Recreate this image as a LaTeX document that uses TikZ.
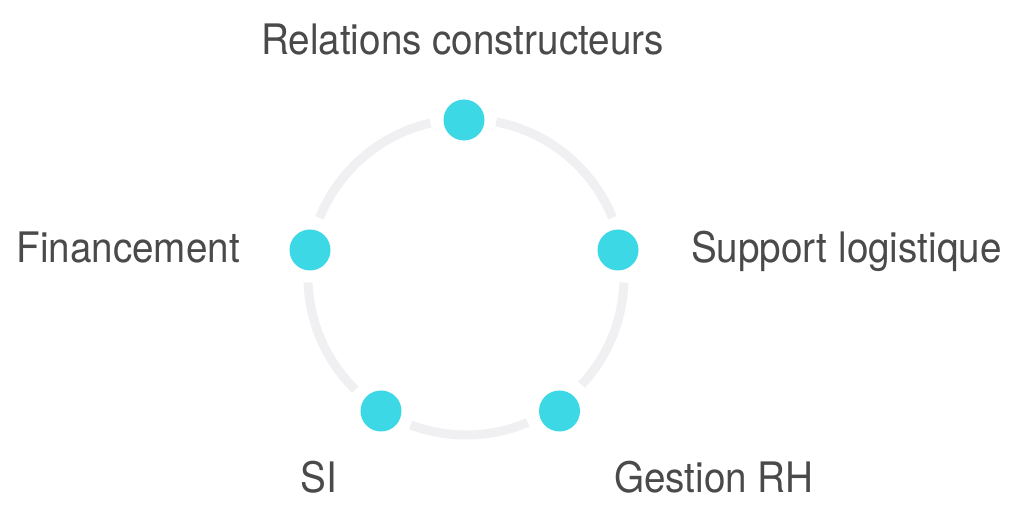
\documentclass[tikz,border=0pt]{standalone}
\usepackage{fontspec}
\setmainfont[FakeStretch=0.92]{TeX Gyre Heros}
\usepackage{tikz}
\usetikzlibrary{positioning}
\definecolor{ringgray}{RGB}{240,240,243}
\definecolor{dotcyan}{RGB}{61,216,230}
\definecolor{labelgray}{RGB}{74,74,74}

\begin{document}
\begin{tikzpicture}[x=1pt, y=1pt,
    dot/.style={circle, fill=dotcyan, minimum size=41pt, inner sep=0pt},
    ring/.style={line width=9pt, draw=ringgray},
    lbl/.style={text=labelgray, inner sep=0pt, font=\fontsize{42}{50}\selectfont}]
  \useasboundingbox[fill=white] (0,0) rectangle (1024,505);
  \coordinate (ctr) at (466,228);
  % Ring pieces between the dots
  \foreach \a/\b in {10/91, 91/170, 170/237.5, 237.5/305, 305/370}
    \draw[ring] ([shift={(\a+12:158)}]ctr) arc[start angle=\a+12, end angle=\b-12, radius=158];
  % Dots
  \node[dot] (top)   at (464,385) {};
  \node[dot] (left)  at (310,255) {};
  \node[dot] (right) at (618,255) {};
  \node[dot] (botl)  at (381,94) {};
  \node[dot] (botr)  at (559.5,94) {};
  % Labels
  \node[lbl, anchor=base] (relations) at (462.5,450) {Relations constructeurs};
  \node[lbl, anchor=base east] (financement) at (240,242) {Financement};
  \node[lbl, anchor=base west] (support) at (691,242) {Support logistique};
  \node[lbl, anchor=base] (si) at (318.5,12) {SI};
  \node[lbl, anchor=base west] (gestion) at (614,12) {Gestion RH};
\end{tikzpicture}
\end{document}
